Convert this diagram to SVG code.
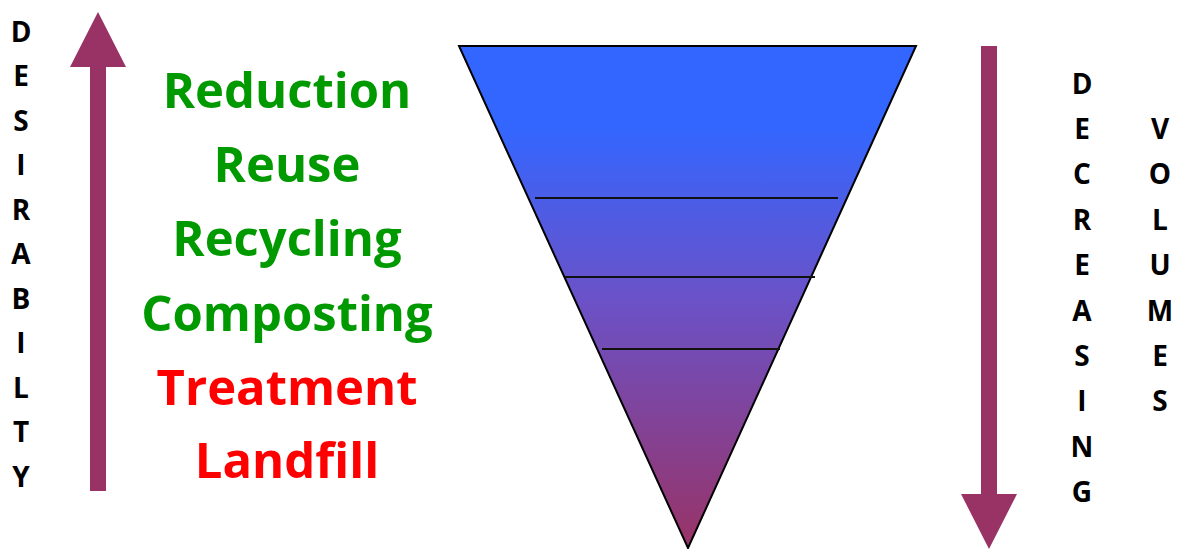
<svg xmlns="http://www.w3.org/2000/svg" width="1180" height="549" viewBox="0 0 1180 549">
  <style>
    .letter { font-family: "Open Sans", "DejaVu Sans", sans-serif; font-weight: 700; font-size: 28px; fill: #000; text-anchor: middle; }
    .tier { font-family: "Open Sans", "DejaVu Sans", sans-serif; font-weight: 700; font-size: 49px; text-anchor: middle; }
    .good { fill: #009900; }
    .bad { fill: #FF0000; }
    .arrow { fill: #993366; }
    .divider { stroke: #111; stroke-width: 2; }
  </style>
  <defs>
    <linearGradient id="funnelFill" x1="0" y1="46" x2="0" y2="548" gradientUnits="userSpaceOnUse">
      <stop offset="0" stop-color="#3366FF"/>
      <stop offset="0.16" stop-color="#3366FF"/>
      <stop offset="0.5" stop-color="#6A52C8"/>
      <stop offset="1" stop-color="#993366"/>
    </linearGradient>
  </defs>
  <rect width="1180" height="549" fill="#FFFFFF"/>

  <!-- vertical label: DESIRABILTY -->
  <g id="label-desirability">
    <text class="letter" x="21" y="41.5">D</text>
    <text class="letter" x="21" y="86">E</text>
    <text class="letter" x="21" y="130.5">S</text>
    <text class="letter" x="21" y="175">I</text>
    <text class="letter" x="21" y="219.5">R</text>
    <text class="letter" x="21" y="264">A</text>
    <text class="letter" x="21" y="308.5">B</text>
    <text class="letter" x="21" y="353">I</text>
    <text class="letter" x="21" y="397.5">L</text>
    <text class="letter" x="21" y="442">T</text>
    <text class="letter" x="21" y="486.5">Y</text>
  </g>

  <!-- arrows -->
  <g id="connectors">
    <polygon id="arrow-up" class="arrow" points="98,12 126,67 106,67 106,491 90,491 90,67 70,67"/>
    <polygon id="arrow-down" class="arrow" points="981,46 997,46 997,494 1017,494 989,549 961,494 981,494"/>
  </g>

  <!-- waste hierarchy tiers -->
  <g id="tiers">
    <text class="tier good" x="287" y="108">Reduction</text>
    <text class="tier good" x="287" y="182">Reuse</text>
    <text class="tier good" x="287" y="256">Recycling</text>
    <text class="tier good" x="287" y="331">Composting</text>
    <text class="tier bad" x="287" y="405">Treatment</text>
    <text class="tier bad" x="287" y="478">Landfill</text>
  </g>

  <!-- inverted pyramid -->
  <g id="funnel">
    <polygon points="459,46 916,46 688,548" fill="url(#funnelFill)" stroke="#000" stroke-width="2" stroke-linejoin="miter"/>
    <line class="divider" x1="535" y1="198" x2="838" y2="198"/>
    <line class="divider" x1="565" y1="277" x2="815" y2="277"/>
    <line class="divider" x1="602" y1="349" x2="780" y2="349"/>
  </g>

  <!-- vertical label: DECREASING -->
  <g id="label-decreasing">
    <text class="letter" x="1082" y="93.5">D</text>
    <text class="letter" x="1082" y="138.9">E</text>
    <text class="letter" x="1082" y="184.3">C</text>
    <text class="letter" x="1082" y="229.7">R</text>
    <text class="letter" x="1082" y="275.1">E</text>
    <text class="letter" x="1082" y="320.5">A</text>
    <text class="letter" x="1082" y="365.9">S</text>
    <text class="letter" x="1082" y="411.3">I</text>
    <text class="letter" x="1082" y="456.7">N</text>
    <text class="letter" x="1082" y="502.1">G</text>
  </g>

  <!-- vertical label: VOLUMES -->
  <g id="label-volumes">
    <text class="letter" x="1160" y="138.9">V</text>
    <text class="letter" x="1160" y="184.3">O</text>
    <text class="letter" x="1160" y="229.7">L</text>
    <text class="letter" x="1160" y="275.1">U</text>
    <text class="letter" x="1160" y="320.5">M</text>
    <text class="letter" x="1160" y="365.9">E</text>
    <text class="letter" x="1160" y="411.3">S</text>
  </g>
</svg>
